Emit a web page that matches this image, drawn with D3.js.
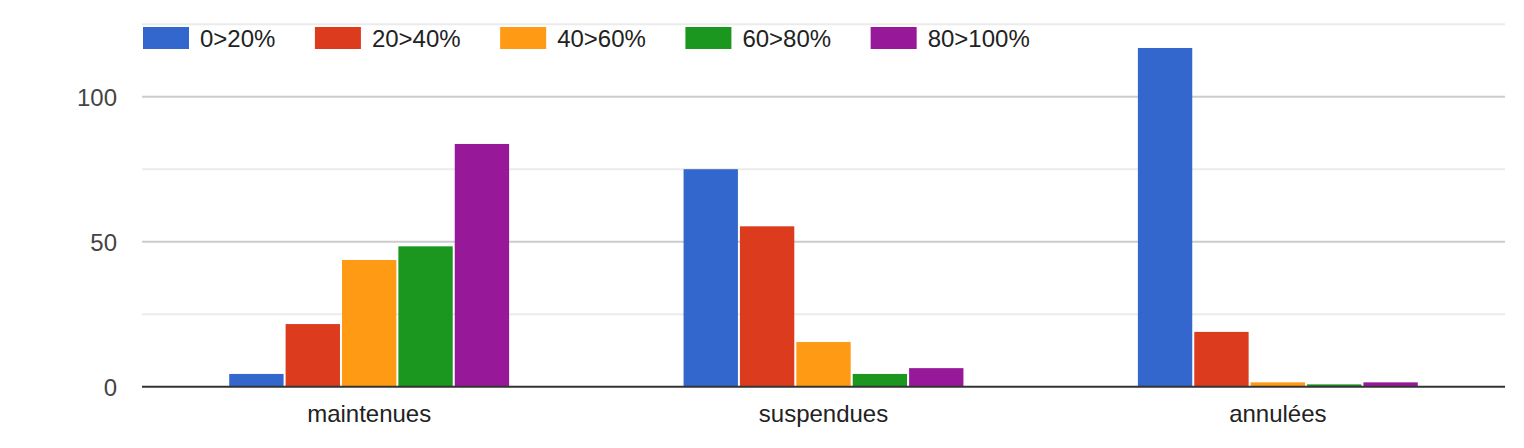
<!DOCTYPE html>
<html>
<head>
<meta charset="utf-8">
<script src="https://cdn.jsdelivr.net/npm/d3@7"></script>
<style>
  html, body { margin: 0; padding: 0; background: #fff; }
  svg { display: block; }
  text { font-family: "Liberation Sans", Arial, sans-serif; }
</style>
</head>
<body>
<svg id="chart" width="1524" height="448"></svg>
<script>
// ---- data ----
const categories = ["maintenues", "suspendues", "annulées"];
const seriesNames = ["0>20%", "20>40%", "40>60%", "60>80%", "80>100%"];
const seriesColors = ["#3367cd", "#dc3b1e", "#fe9a14", "#1b961f", "#98189a"];
const s0to20   = [4.4, 75, 116.8];
const s20to40  = [21.6, 55.3, 18.9];
const s40to60  = [43.7, 15.4, 1.5];
const s60to80  = [48.4, 4.4, 0.8];
const s80to100 = [83.7, 6.4, 1.5];
const seriesValues = [s0to20, s20to40, s40to60, s60to80, s80to100];
const yTicksMajor = [0, 50, 100];
const yTicksMinor = [25, 75, 125];

// ---- layout ----
const svg = d3.select("#chart");
const plotLeft = 142, plotRight = 1505, plotTop = 24.2, plotBottom = 386.7;

const y = d3.scaleLinear().domain([0, 125]).range([plotBottom, plotTop]);
const x0 = d3.scaleBand().domain(categories).range([plotLeft, plotRight])
  .paddingInner(0.384).paddingOuter(0.192);
const x1 = d3.scaleBand().domain(seriesNames).range([0, x0.bandwidth()])
  .paddingInner(0.036).paddingOuter(0);

// gridlines
svg.append("g").selectAll("line").data(yTicksMinor).join("line")
  .attr("x1", plotLeft).attr("x2", plotRight)
  .attr("y1", d => y(d)).attr("y2", d => y(d))
  .attr("stroke", "#ebebeb").attr("stroke-width", 2);
svg.append("g").selectAll("line").data(yTicksMajor.filter(d => d !== 0)).join("line")
  .attr("x1", plotLeft).attr("x2", plotRight)
  .attr("y1", d => y(d)).attr("y2", d => y(d))
  .attr("stroke", "#cccccc").attr("stroke-width", 2);

// y axis labels
const yAxis = d3.axisLeft(y).tickValues(yTicksMajor).tickSize(0).tickPadding(0);
const yg = svg.append("g").attr("transform", `translate(117,0)`).call(yAxis);
yg.select(".domain").remove();
yg.selectAll("text").attr("font-size", 24).attr("fill", "#444")
  .attr("font-family", "'Liberation Sans', Arial, sans-serif").attr("dy", "0.36em");

// bars
const groups = svg.append("g").selectAll("g").data(categories).join("g")
  .attr("transform", d => `translate(${x0(d)},0)`);
groups.selectAll("rect").data((c, ci) => seriesNames.map((s, si) => ({ s, si, v: seriesValues[si][ci] })))
  .join("rect")
  .attr("x", d => x1(d.s))
  .attr("width", x1.bandwidth())
  .attr("y", d => y(d.v))
  .attr("height", d => y(0) - y(d.v))
  .attr("fill", d => seriesColors[d.si]);

// baseline
svg.append("line").attr("x1", plotLeft).attr("x2", plotRight)
  .attr("y1", y(0)).attr("y2", y(0))
  .attr("stroke", "#333").attr("stroke-width", 2);

// x axis labels
const xAxis = d3.axisBottom(x0).tickSize(0).tickPadding(0);
const xg = svg.append("g").attr("transform", `translate(0,422)`).call(xAxis);
xg.select(".domain").remove();
xg.selectAll("text").attr("font-size", 24).attr("fill", "#222").attr("dy", 0)
  .attr("font-family", "'Liberation Sans', Arial, sans-serif");

// legend
const legend = svg.append("g");
let lx = 143;
seriesNames.forEach((name, i) => {
  const g = legend.append("g");
  g.append("rect").attr("x", lx).attr("y", 27).attr("width", 46).attr("height", 22)
    .attr("fill", seriesColors[i]);
  const t = g.append("text").attr("x", lx + 57).attr("y", 47)
    .attr("font-size", 24).attr("fill", "#222").text(name);
  const w = t.node().getComputedTextLength();
  lx = lx + 57 + w + 39.5;
});
</script>
</body>
</html>
